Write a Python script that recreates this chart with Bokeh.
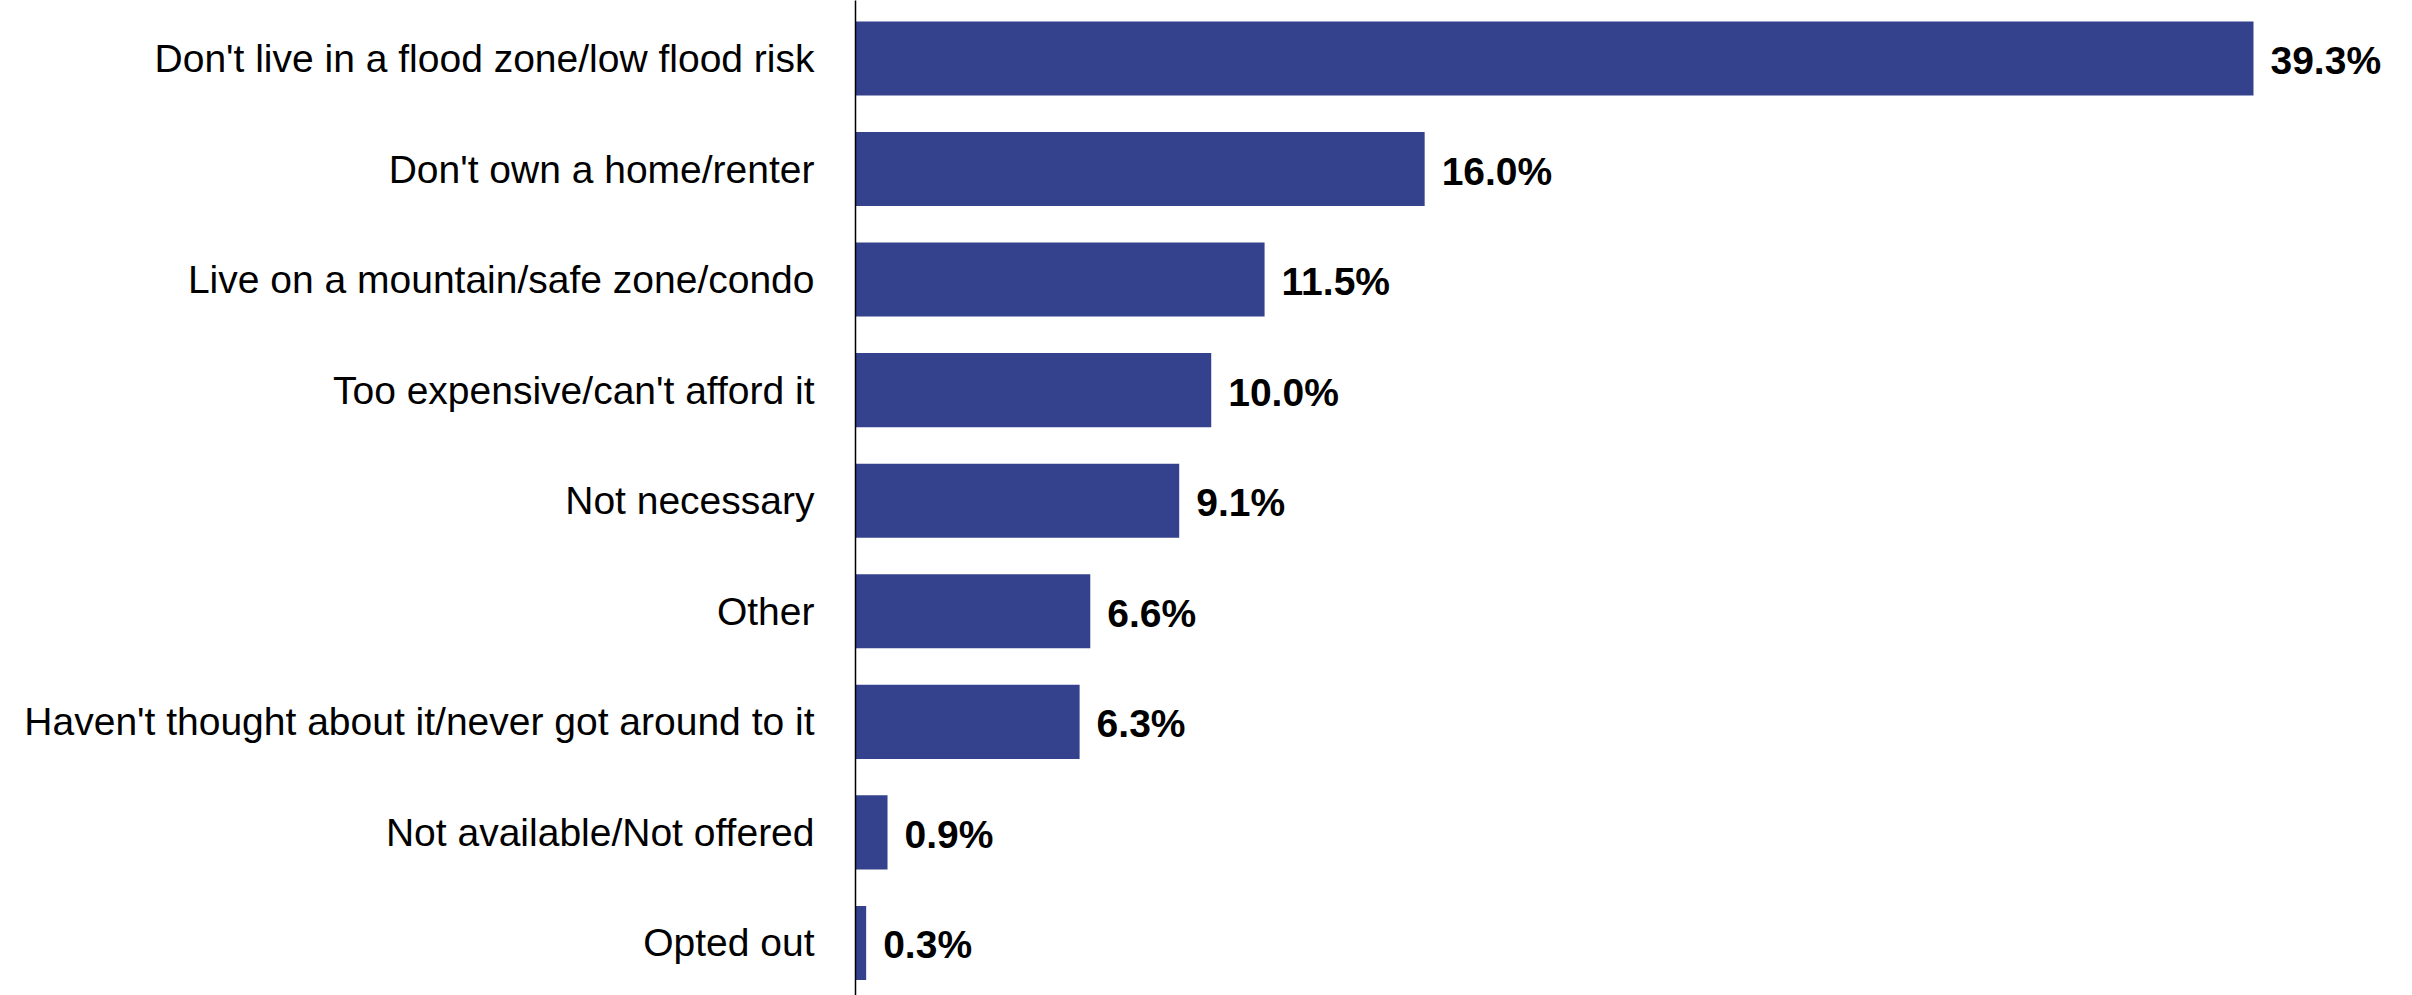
from bokeh.plotting import figure
from bokeh.models import Range1d, FixedTicker, ColumnDataSource
from bokeh.core.properties import value
from bokeh.embed import file_html
from bokeh.resources import INLINE

categories = [
    "Don't live in a flood zone/low flood risk",
    "Don't own a home/renter",
    "Live on a mountain/safe zone/condo",
    "Too expensive/can't afford it",
    "Not necessary",
    "Other",
    "Haven't thought about it/never got around to it",
    "Not available/Not offered",
    "Opted out",
]
values = [39.3, 16.0, 11.5, 10.0, 9.1, 6.6, 6.3, 0.9, 0.3]
value_labels = ["39.3%", "16.0%", "11.5%", "10.0%", "9.1%", "6.6%", "6.3%", "0.9%", "0.3%"]

n = len(categories)
ypos = [n - 1 - i for i in range(n)]

src = ColumnDataSource(dict(y=ypos, v=values, lab=value_labels, cat=categories))

FONT = "Liberation Sans Narrow, Arial Narrow, Liberation Sans, Arial, sans-serif"

p = figure(width=2412, height=995, output_backend="svg", toolbar_location=None,
           x_range=Range1d(0, 43.77), y_range=Range1d(-0.475, n - 1 + 0.524),
           min_border_left=855, min_border_right=0, min_border_top=0, min_border_bottom=0)
p.outline_line_color = None
p.xgrid.visible = False
p.ygrid.visible = False
p.xaxis.visible = False
p.background_fill_color = "white"
p.border_fill_color = "white"

p.hbar(y="y", right="v", left=0, height=0.67, source=src,
       fill_color="#34418C", line_color=None)

p.text(x="v", y="y", text="lab", source=src, x_offset=17, y_offset=2,
       text_font=value(FONT), text_font_style="bold", text_font_size="39px",
       text_align="left", text_baseline="middle", text_color="black")

ya = p.yaxis[0]
ya.ticker = FixedTicker(ticks=ypos)
ya.major_label_overrides = {y: c for y, c in zip(ypos, categories)}
ya.major_tick_line_color = None
ya.major_tick_out = 0
ya.major_tick_in = 0
ya.minor_tick_line_color = None
ya.major_label_text_font = FONT
ya.major_label_text_font_size = "39px"
ya.major_label_text_color = "black"
ya.major_label_standoff = 41
ya.axis_line_color = "black"
ya.axis_line_width = 1.5

open("out.html", "w").write(file_html(p, INLINE))
